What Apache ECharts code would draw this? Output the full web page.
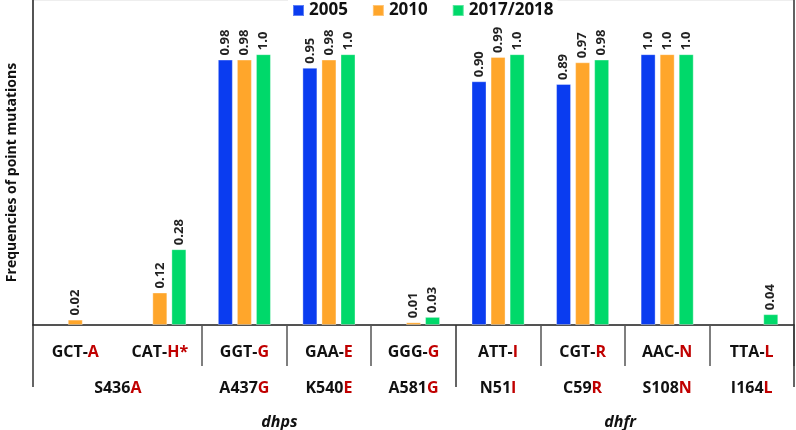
<!DOCTYPE html>
<html>
<head>
<meta charset="utf-8">
<script src="https://cdn.jsdelivr.net/npm/echarts@6/dist/echarts.min.js"></script>
<style>
  html, body { margin: 0; padding: 0; background: #fff; }
  #main { width: 796px; height: 430px; }
</style>
</head>
<body>
<div id="main"></div>
<script>
// codon - amino acid pairs (second part drawn in red)
var codons = [['GCT-', 'A'], ['CAT-', 'H*'], ['GGT-', 'G'], ['GAA-', 'E'], ['GGG-', 'G'],
              ['ATT-', 'I'], ['CGT-', 'R'], ['AAC-', 'N'], ['TTA-', 'L']];
// mutation names per category (null = shared with previous)
var mutations = [['S436', 'A'], null, ['A437', 'G'], ['K540', 'E'], ['A581', 'G'],
                 ['N51', 'I'], ['C59', 'R'], ['S108', 'N'], ['I164', 'L']];
var years = ['2005', '2010', '2017/2018'];
var v2005 = ['-', '-', 0.98, 0.95, '-', 0.90, 0.89, 1.0, '-'];
var v2010 = [0.02, 0.12, 0.98, 0.98, 0.01, 0.99, 0.97, 1.0, '-'];
var v2017 = ['-', 0.28, 1.0, 1.0, 0.03, 1.0, 0.98, 1.0, 0.04];
var colors = ['#0a3cf0', '#ffa62b', '#00d96a'];
// group boundaries (in category units) where the long separators go
var groupEdges = [0, 5, 9];

var cats = codons.map(function (c) { return c[0] + c[1]; });

var myChart = echarts.init(document.getElementById('main'));

function labelFmt(value, idx) {
    var c = codons[idx];
    var s = '{b|' + c[0] + '}{r|' + c[1] + '}\n';
    var m = mutations[idx];
    if (idx === 0) s += '{sp|}{b|' + m[0] + '}{r|' + m[1] + '}';
    else if (m) s += '{b|' + m[0] + '}{r|' + m[1] + '}';
    else s += '{b| }';
    s += '\n';
    if (idx === 2) s += '{sp2|}{i|dhps}';
    else if (idx === 7) s += '{i|dhfr}{sp3|}';
    else s += '{i| }';
    return s;
}

var font = 'Open Sans';
var richStyles = {
    b: { color: '#111', fontWeight: 'bold', fontSize: 16, fontFamily: font, lineHeight: 36 },
    r: { color: '#c00000', fontWeight: 'bold', fontSize: 16, fontFamily: font, lineHeight: 36 },
    i: { color: '#111', fontWeight: 'bold', fontStyle: 'italic', fontSize: 16, fontFamily: font, lineHeight: 32 },
    sp: { width: 85, lineHeight: 36 },
    sp2: { width: 70, lineHeight: 32 },
    sp3: { width: 94, lineHeight: 32 }
};

function barLabel(p) {
    var v = p.value;
    return v === 1 ? '1.0' : v.toFixed(2);
}

var series = [v2005, v2010, v2017].map(function (vals, k) {
    return {
        name: years[k],
        type: 'bar',
        data: vals,
        barWidth: 15,
        barGap: '27%',
        itemStyle: { color: colors[k], borderColor: 'rgba(255,255,255,0.35)', borderWidth: 1 },
        label: {
            show: true,
            position: 'top',
            rotate: 90,
            align: 'left',
            verticalAlign: 'middle',
            distance: 4,
            formatter: barLabel,
            fontFamily: font,
            fontWeight: 'bold',
            fontSize: 13,
            color: '#222'
        }
    };
});

option = {
    animation: false,
    color: colors,
    legend: {
        data: years,
        top: 0,
        left: 288,
        itemWidth: 11,
        itemHeight: 11,
        itemGap: 24,
        icon: 'rect',
        backgroundColor: '#fff',
        padding: [2, 4],
        textStyle: { fontFamily: font, fontWeight: 'bold', fontSize: 17, color: '#111' }
    },
    grid: {
        left: 33, right: 2, top: 0, bottom: 105,
        outerBoundsMode: 'none', containLabel: false,
        show: true, borderColor: '#ddd', borderWidth: 1
    },
    xAxis: [{
        type: 'category',
        data: cats,
        axisLine: { lineStyle: { color: '#222', width: 1.5 } },
        axisTick: {
            show: true,
            length: 41,
            interval: function (i) { return [2, 3, 4, 6, 7, 8].indexOf(i) >= 0; },
            lineStyle: { color: '#555', width: 1.5 }
        },
        axisLabel: { interval: 0, margin: 9, formatter: labelFmt, rich: richStyles }
    }, {
        type: 'value',
        min: 0,
        max: cats.length,
        position: 'bottom',
        axisLine: { show: false },
        axisTick: {
            show: true,
            length: 62,
            customValues: groupEdges,
            lineStyle: { color: '#333', width: 1.5 }
        },
        axisLabel: { show: false },
        splitLine: { show: false }
    }],
    yAxis: [{
        type: 'value',
        min: 0,
        max: 1.2,
        axisLine: { show: true, lineStyle: { color: '#222', width: 1.5 } },
        axisTick: { show: false },
        axisLabel: { show: false },
        splitLine: { show: false },
        name: 'Frequencies of point mutations',
        nameLocation: 'middle',
        nameGap: 14,
        nameTextStyle: { fontFamily: font, fontWeight: 'bold', fontSize: 14, color: '#111', padding: [0, 20, 0, 0] }
    }, {
        type: 'value',
        min: 0,
        max: 1.2,
        position: 'right',
        axisLine: { show: true, lineStyle: { color: '#333', width: 1.5 } },
        axisTick: { show: false },
        axisLabel: { show: false },
        splitLine: { show: false }
    }],
    series: series
};
myChart.setOption(option);
</script>
</body>
</html>
